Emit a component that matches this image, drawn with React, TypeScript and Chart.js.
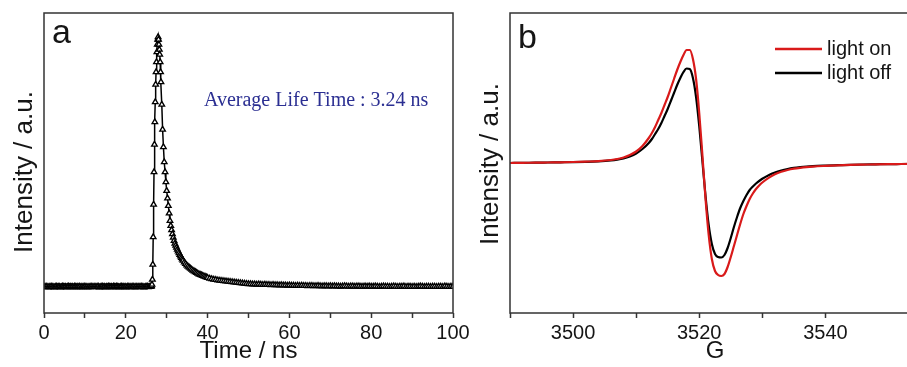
import React, { useEffect, useRef } from 'react';
import { Chart, registerables } from 'chart.js';

Chart.register(...registerables);

const SANS = '"Liberation Sans", Arial, Helvetica, sans-serif';
const SERIF = '"Liberation Serif", "Times New Roman", serif';
const FRAME = '#333333';
const INK = '#151515';

// ---------- Panel a: PL decay ----------
const decayTime = [
  0, 0.25, 0.5, 0.75, 1, 1.25, 1.5, 1.75, 2, 2.25,
  2.5, 2.75, 3, 3.25, 3.5, 3.75, 4, 4.25, 4.5, 4.75,
  5, 5.25, 5.5, 5.75, 6, 6.25, 6.5, 6.75, 7, 7.25,
  7.5, 7.75, 8, 8.25, 8.5, 8.75, 9, 9.25, 9.5, 9.75,
  10, 10.25, 10.5, 10.75, 11, 11.25, 11.5, 11.75, 12, 12.25,
  12.5, 12.75, 13, 13.25, 13.5, 13.75, 14, 14.25, 14.5, 14.75,
  15, 15.25, 15.5, 15.75, 16, 16.25, 16.5, 16.75, 17, 17.25,
  17.5, 17.75, 18, 18.25, 18.5, 18.75, 19, 19.25, 19.5, 19.75,
  20, 20.25, 20.5, 20.75, 21, 21.25, 21.5, 21.75, 22, 22.25,
  22.5, 22.75, 23, 23.25, 23.5, 23.75, 24, 24.25, 24.5, 24.75,
  25, 25.25, 25.5, 25.75, 26,
  26.2, 26.3, 26.4, 26.5, 26.6, 26.7, 26.8, 26.9, 27.0, 27.1,
  27.2, 27.3, 27.4, 27.5, 27.6, 27.7, 27.8, 27.9, 28.0, 28.1,
  28.2, 28.3, 28.4, 28.5, 28.6,
  28.8, 29.0, 29.2, 29.4, 29.6, 29.8, 30.0, 30.2, 30.4, 30.6,
  30.8, 31.0, 31.2, 31.4, 31.6, 31.8, 32.0, 32.2, 32.4, 32.6,
  32.8, 33.0, 33.2, 33.4, 33.6, 33.8, 34.0,
  34.3, 34.6, 34.9, 35.2, 35.5, 35.8, 36.1, 36.4, 36.7, 37.0,
  37.3, 37.6, 37.9, 38.2, 38.5, 38.8, 39.1, 39.4, 39.7, 40.0,
  40.5, 41, 41.5, 42, 42.5, 43, 43.5, 44, 44.5, 45,
  45.5, 46, 46.5, 47, 47.5, 48, 48.5, 49, 49.5, 50,
  50.5, 51, 51.5, 52, 52.5, 53, 53.5, 54, 54.5, 55,
  55.5, 56, 56.5, 57, 57.5, 58, 58.5, 59, 59.5, 60,
  60.5, 61, 61.5, 62, 62.5, 63, 63.5, 64, 64.5, 65,
  65.5, 66, 66.5, 67, 67.5, 68, 68.5, 69, 69.5, 70,
  70.5, 71, 71.5, 72, 72.5, 73, 73.5, 74, 74.5, 75,
  75.5, 76, 76.5, 77, 77.5, 78, 78.5, 79, 79.5, 80,
  80.5, 81, 81.5, 82, 82.5, 83, 83.5, 84, 84.5, 85,
  85.5, 86, 86.5, 87, 87.5, 88, 88.5, 89, 89.5, 90,
  90.5, 91, 91.5, 92, 92.5, 93, 93.5, 94, 94.5, 95,
  95.5, 96, 96.5, 97, 97.5, 98, 98.5, 99, 99.5, 100,
];
const decayCounts = [
  0.001, 0.0, 0.002, 0.001, -0.001, 0.001, 0.0, 0.002, 0.001, 0.0,
  -0.001, 0.001, 0.002, 0.0, 0.001, 0.001, -0.001, 0.0, 0.002, 0.001,
  0.0, 0.001, -0.001, 0.001, 0.002, 0.0, 0.001, 0.0, 0.001, -0.001,
  0.002, 0.001, 0.0, 0.001, 0.0, 0.002, -0.001, 0.001, 0.0, 0.001,
  0.002, 0.0, 0.001, -0.001, 0.001, 0.0, 0.002, 0.001, 0.0, 0.001,
  0.001, 0.0, 0.001, 0.002, -0.001, 0.0, 0.001, 0.002, 0.0, 0.001,
  -0.001, 0.001, 0.0, 0.002, 0.001, 0.0, 0.001, -0.001, 0.002, 0.001,
  0.0, 0.002, 0.001, 0.0, -0.001, 0.001, 0.002, 0.0, 0.001, 0.0,
  0.001, -0.001, 0.002, 0.001, 0.0, 0.001, 0.0, 0.002, 0.001, -0.001,
  0.002, 0.0, 0.001, 0.001, 0.0, 0.002, 0.001, 0.0, -0.001, 0.001,
  0.001, 0.002, 0.0, 0.001, 0.001,
  0.002, 0.004, 0.01, 0.03, 0.09, 0.2, 0.33, 0.46, 0.57, 0.66,
  0.74, 0.81, 0.86, 0.9, 0.94, 0.97, 0.99, 1.0, 0.99, 0.97,
  0.95, 0.93, 0.9, 0.86, 0.82,
  0.73, 0.63, 0.56, 0.5, 0.46, 0.42, 0.385, 0.355, 0.325, 0.295,
  0.265, 0.245, 0.228, 0.212, 0.198, 0.185, 0.174, 0.166, 0.158, 0.15,
  0.143, 0.136, 0.129, 0.123, 0.117, 0.111, 0.106,
  0.099, 0.093, 0.087, 0.082, 0.078, 0.074, 0.07, 0.066, 0.063, 0.06,
  0.057, 0.054, 0.051, 0.049, 0.047, 0.045, 0.043, 0.041, 0.039, 0.037,
  0.034, 0.032, 0.03, 0.029, 0.027, 0.026, 0.025, 0.024, 0.023, 0.022,
  0.021, 0.02, 0.019, 0.018, 0.017, 0.016, 0.015, 0.014, 0.013, 0.012,
  0.012, 0.011, 0.011, 0.01, 0.011, 0.01, 0.009, 0.01, 0.009, 0.009,
  0.008, 0.009, 0.008, 0.008, 0.007, 0.008, 0.007, 0.007, 0.006, 0.007,
  0.006, 0.006, 0.005, 0.006, 0.005, 0.006, 0.005, 0.005, 0.004, 0.005,
  0.005, 0.004, 0.004, 0.005, 0.004, 0.003, 0.004, 0.004, 0.003, 0.004,
  0.003, 0.004, 0.003, 0.003, 0.002, 0.003, 0.004, 0.003, 0.002, 0.003,
  0.003, 0.002, 0.003, 0.003, 0.002, 0.002, 0.003, 0.002, 0.003, 0.002,
  0.002, 0.003, 0.002, 0.001, 0.002, 0.003, 0.002, 0.002, 0.001, 0.002,
  0.003, 0.002, 0.001, 0.002, 0.002, 0.003, 0.001, 0.002, 0.002, 0.001,
  0.002, 0.001, 0.002, 0.003, 0.002, 0.001, 0.002, 0.002, 0.001, 0.002,
  0.002, 0.001, 0.002, 0.002, 0.001, 0.003, 0.002, 0.001, 0.002, 0.002,
];
const timeTickLabels = [0, 20, 40, 60, 80, 100];

// ---------- Panel b: EPR ----------
const fieldG = [
  3490, 3492, 3494, 3496, 3498, 3500, 3502, 3504, 3506,
  3507, 3508, 3509, 3510, 3511,
  3512, 3512.5, 3513, 3513.5, 3514, 3514.5, 3515, 3515.5, 3516, 3516.5,
  3517, 3517.5, 3518, 3518.5, 3519, 3519.5, 3520, 3520.5, 3521, 3521.5,
  3522, 3522.5, 3523, 3523.5, 3524, 3524.5, 3525, 3525.5, 3526, 3526.5,
  3527, 3527.5, 3528, 3528.5, 3529, 3529.5, 3530,
  3531, 3532, 3533, 3534, 3535, 3536, 3537, 3538,
  3540, 3542, 3544, 3546, 3548, 3550, 3552, 3554, 3556,
];
const lightOn = [
  0.0, 0.002, 0.003, 0.005, 0.007, 0.01, 0.014, 0.019, 0.03,
  0.04, 0.055, 0.08, 0.115, 0.17,
  0.25, 0.3, 0.36, 0.43, 0.5, 0.58, 0.66, 0.75, 0.84, 0.93,
  1.01, 1.08, 1.13, 1.13, 1.04, 0.84, 0.5, 0.08, -0.36, -0.72,
  -0.96, -1.08, -1.12, -1.13, -1.11, -1.04, -0.94, -0.83, -0.72, -0.61,
  -0.51, -0.43, -0.36, -0.305, -0.26, -0.225, -0.195,
  -0.148, -0.113, -0.088, -0.07, -0.057, -0.048, -0.041, -0.036,
  -0.029, -0.023, -0.019, -0.016, -0.013, -0.011, -0.01, -0.009, -0.008,
];
const lightOff = [
  0.0, 0.002, 0.003, 0.005, 0.007, 0.009, 0.012, 0.017, 0.026,
  0.034, 0.046, 0.066, 0.095, 0.14,
  0.2, 0.24, 0.29, 0.34, 0.4, 0.47, 0.54, 0.62, 0.7, 0.78,
  0.85, 0.91, 0.945, 0.94, 0.85, 0.66, 0.37, 0.02, -0.33, -0.62,
  -0.81, -0.91, -0.94, -0.945, -0.92, -0.85, -0.75, -0.64, -0.54, -0.45,
  -0.38, -0.32, -0.27, -0.235, -0.205, -0.18, -0.158,
  -0.122, -0.095, -0.075, -0.06, -0.049, -0.041, -0.035, -0.031,
  -0.026, -0.022, -0.018, -0.015, -0.013, -0.011, -0.01, -0.009, -0.008,
];
const fieldTickLabels = [3500, 3520, 3540];
const seriesNames = ['light on', 'light off'];
const seriesColors = ['#d91a1a', '#000000'];

type TextItem = {
  text: string; x: number; y: number; font: string; color: string;
  rotate?: boolean; align?: CanvasTextAlign; baseline?: CanvasTextBaseline;
};
type LineItem = { x1: number; x2: number; y: number; color: string; width: number };

const framePlugin = {
  id: 'frame',
  afterDraw(chart: any) {
    const { ctx, chartArea: a } = chart;
    ctx.save();
    ctx.strokeStyle = FRAME;
    ctx.lineWidth = 1.5;
    ctx.strokeRect(a.left, a.top, a.right - a.left, a.bottom - a.top);
    ctx.restore();
  },
};

const decorPlugin = (texts: TextItem[], lines: LineItem[]) => ({
  id: 'decor',
  afterDraw(chart: any) {
    const ctx = chart.ctx as CanvasRenderingContext2D;
    ctx.save();
    for (const l of lines) {
      ctx.strokeStyle = l.color;
      ctx.lineWidth = l.width;
      ctx.beginPath();
      ctx.moveTo(l.x1, l.y);
      ctx.lineTo(l.x2, l.y);
      ctx.stroke();
    }
    for (const t of texts) {
      ctx.save();
      ctx.font = t.font;
      ctx.fillStyle = t.color;
      ctx.textAlign = t.align || 'left';
      ctx.textBaseline = t.baseline || 'alphabetic';
      ctx.translate(t.x, t.y);
      if (t.rotate) ctx.rotate(-Math.PI / 2);
      ctx.fillText(t.text, 0, 0);
      ctx.restore();
    }
    ctx.restore();
  },
});

const xAxisCommon = (min: number, max: number, labels: number[], title: string) => ({
  type: 'linear' as const,
  min,
  max,
  grid: {
    display: true,
    drawOnChartArea: false,
    drawTicks: true,
    tickLength: 5,
    tickColor: FRAME,
    tickWidth: 1.5,
  },
  border: { display: false },
  ticks: {
    stepSize: 10,
    autoSkip: false,
    maxRotation: 0,
    padding: 3,
    color: INK,
    font: { family: SANS, size: 20 },
    callback: (v: any) => (labels.includes(Number(v)) ? String(v) : ''),
  },
  title: {
    display: true,
    text: title,
    color: INK,
    font: { family: SANS, size: 24 },
    padding: { top: 0, bottom: 1 },
  },
  afterFit: (s: any) => {
    s.height = 54;
  },
});

const yAxisCommon = (min: number, max: number, width: number) => ({
  type: 'linear' as const,
  min,
  max,
  ticks: { display: false },
  grid: { display: false, drawTicks: false },
  border: { display: false },
  afterFit: (s: any) => {
    s.width = width;
  },
});

export default function App() {
  const refA = useRef<HTMLCanvasElement>(null);
  const refB = useRef<HTMLCanvasElement>(null);

  useEffect(() => {
    const chartA = new Chart(refA.current as HTMLCanvasElement, {
      type: 'line',
      data: {
        datasets: [
          {
            data: decayTime.map((t, i) => ({ x: t, y: decayCounts[i] })),
            borderColor: '#000',
            borderWidth: 1.5,
            pointStyle: 'triangle',
            pointRadius: 3.2,
            pointBorderWidth: 1.35,
            pointBackgroundColor: '#fff',
            pointBorderColor: '#000',
            tension: 0,
          },
        ],
      },
      options: {
        responsive: false,
        animation: false,
        events: [],
        layout: { padding: { left: 0, right: 27, top: 13, bottom: 0 } },
        plugins: { legend: { display: false }, tooltip: { enabled: false } },
        scales: {
          x: xAxisCommon(0, 100, timeTickLabels, 'Time / ns'),
          y: yAxisCommon(-0.104, 1.096, 44),
        },
      },
      plugins: [
        framePlugin,
        decorPlugin(
          [
            { text: 'a', x: 52, y: 43, font: `34px ${SANS}`, color: INK },
            { text: 'Intensity / a.u.', x: 32, y: 172, font: `26px ${SANS}`, color: INK, rotate: true, align: 'center' },
            { text: 'Average Life Time : 3.24 ns', x: 204, y: 106, font: `20px ${SERIF}`, color: '#2b2f92' },
          ],
          []
        ),
      ],
    } as any);

    const chartB = new Chart(refB.current as HTMLCanvasElement, {
      type: 'line',
      data: {
        datasets: [
          {
            label: seriesNames[0],
            data: fieldG.map((g, i) => ({ x: g, y: lightOn[i] })),
            borderColor: seriesColors[0],
            borderWidth: 2.2,
            pointRadius: 0,
            cubicInterpolationMode: 'monotone',
          },
          {
            label: seriesNames[1],
            data: fieldG.map((g, i) => ({ x: g, y: lightOff[i] })),
            borderColor: seriesColors[1],
            borderWidth: 2.2,
            pointRadius: 0,
            cubicInterpolationMode: 'monotone',
          },
        ],
      },
      options: {
        responsive: false,
        animation: false,
        events: [],
        layout: { padding: { left: 0, right: 20, top: 13, bottom: 0 } },
        plugins: { legend: { display: false }, tooltip: { enabled: false } },
        scales: {
          x: xAxisCommon(3490, 3555, fieldTickLabels, 'G'),
          y: yAxisCommon(-1.5, 1.5, 50),
        },
      },
      plugins: [
        framePlugin,
        decorPlugin(
          [
            { text: 'b', x: 58, y: 48, font: `34px ${SANS}`, color: INK },
            { text: 'Intensity / a.u.', x: 38, y: 164, font: `26px ${SANS}`, color: INK, rotate: true, align: 'center' },
            { text: seriesNames[0], x: 367, y: 49, font: `20px ${SANS}`, color: INK, baseline: 'middle' },
            { text: seriesNames[1], x: 367, y: 73, font: `20px ${SANS}`, color: INK, baseline: 'middle' },
          ],
          [
            { x1: 315, x2: 362, y: 49, color: seriesColors[0], width: 2.5 },
            { x1: 315, x2: 362, y: 73, color: seriesColors[1], width: 2.5 },
          ]
        ),
      ],
    } as any);

    return () => {
      chartA.destroy();
      chartB.destroy();
    };
  }, []);

  return (
    <div
      style={{
        position: 'fixed',
        left: 0,
        top: 0,
        width: 907,
        height: 367,
        overflow: 'hidden',
        background: '#fff',
      }}
    >
      <canvas ref={refA} width={480} height={367} style={{ position: 'absolute', left: 0, top: 0 }} />
      <canvas ref={refB} width={480} height={367} style={{ position: 'absolute', left: 460, top: 0 }} />
    </div>
  );
}
